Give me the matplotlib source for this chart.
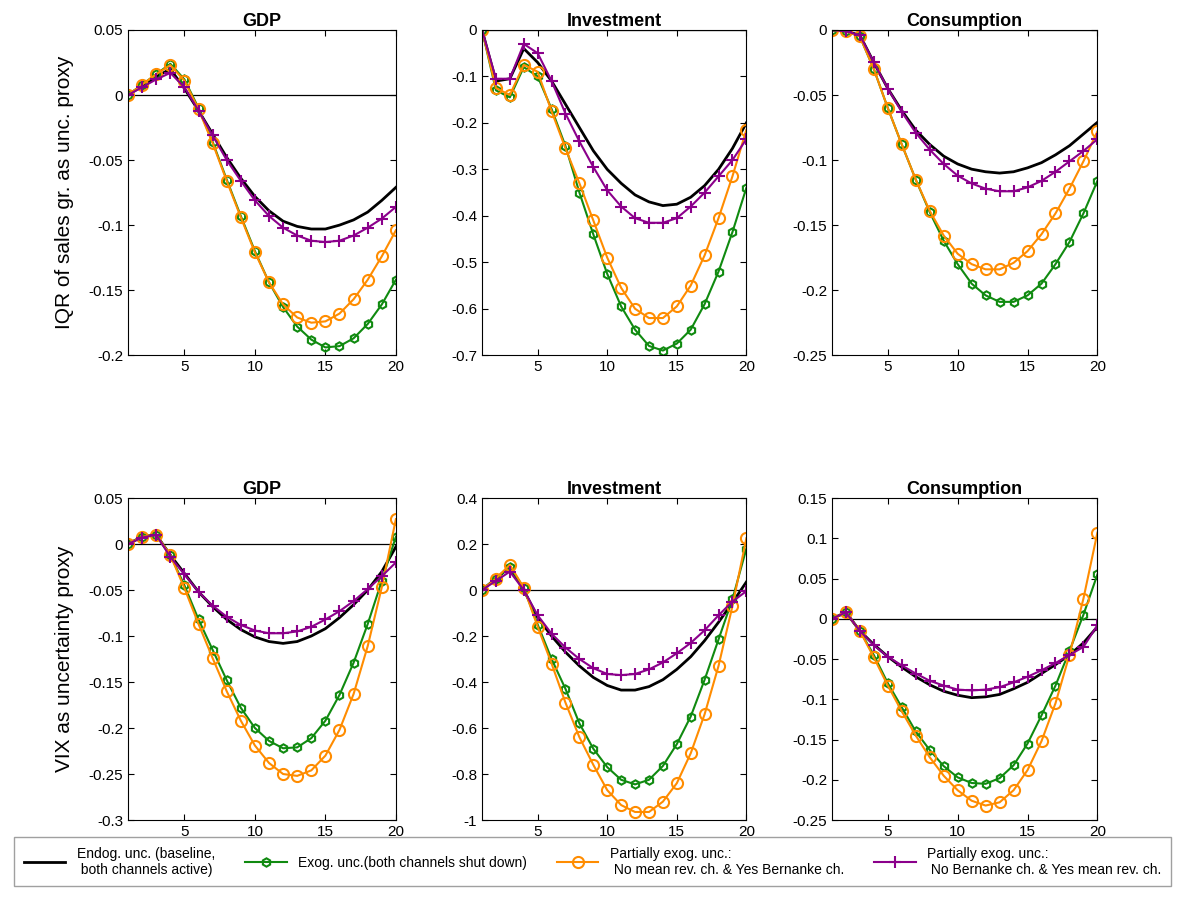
import matplotlib
matplotlib.use("Agg")
import matplotlib.pyplot as plt
import numpy as np

plt.rcParams['font.family'] = ['Liberation Sans', 'DejaVu Sans']
x = np.arange(1, 21)

titles = ["GDP", "Investment", "Consumption", "GDP", "Investment", "Consumption"]
row_labels = ["IQR of sales gr. as unc. proxy", "VIX as uncertainty proxy"]
series_labels = ["Endog. unc. (baseline,\n both channels active)",
                 "Exog. unc.(both channels shut down)",
                 "Partially exog. unc.:\n No mean rev. ch. & Yes Bernanke ch.",
                 "Partially exog. unc.:\n No Bernanke ch. & Yes mean rev. ch."]

black = [
 [0,.007,.014,.02,.005,-.012,-.03,-.048,-.064,-.078,-.089,-.097,-.101,-.103,-.103,-.1,-.096,-.09,-.081,-.071],
 [0,-.11,-.105,-.04,-.07,-.11,-.16,-.21,-.26,-.3,-.33,-.355,-.37,-.378,-.375,-.36,-.335,-.3,-.255,-.2],
 [0,-.001,-.004,-.025,-.045,-.062,-.077,-.088,-.097,-.103,-.107,-.109,-.11,-.109,-.106,-.102,-.096,-.089,-.08,-.071],
 [0,.008,.01,-.012,-.032,-.052,-.068,-.082,-.093,-.101,-.106,-.108,-.106,-.1,-.092,-.08,-.066,-.05,-.03,-.003],
 [0,.05,.1,.0,-.12,-.2,-.27,-.33,-.38,-.415,-.435,-.435,-.42,-.39,-.345,-.29,-.22,-.14,-.055,.035],
 [0,.008,-.015,-.032,-.047,-.06,-.072,-.082,-.09,-.095,-.098,-.097,-.094,-.087,-.079,-.068,-.057,-.045,-.03,-.01]]
green = [
 [0,.008,.016,.024,.012,-.01,-.036,-.065,-.093,-.12,-.144,-.163,-.178,-.188,-.194,-.193,-.187,-.176,-.161,-.142],
 [0,-.13,-.145,-.08,-.1,-.17,-.25,-.35,-.44,-.525,-.595,-.645,-.68,-.69,-.675,-.645,-.59,-.52,-.435,-.34],
 [0,-.001,-.005,-.03,-.06,-.088,-.115,-.14,-.162,-.18,-.195,-.204,-.209,-.209,-.204,-.195,-.18,-.163,-.141,-.116],
 [0,.008,.01,-.012,-.045,-.082,-.115,-.148,-.178,-.2,-.214,-.222,-.221,-.211,-.192,-.164,-.129,-.087,-.04,.008],
 [0,.05,.1,.01,-.15,-.3,-.43,-.58,-.69,-.77,-.825,-.845,-.825,-.765,-.67,-.55,-.39,-.215,-.04,.18],
 [0,.008,-.015,-.045,-.08,-.11,-.14,-.163,-.183,-.197,-.204,-.205,-.198,-.182,-.155,-.12,-.083,-.04,.005,.055]]
orange = [
 [0,.008,.016,.023,.011,-.011,-.037,-.066,-.094,-.121,-.144,-.161,-.171,-.175,-.174,-.168,-.157,-.142,-.124,-.104],
 [0,-.125,-.14,-.075,-.09,-.175,-.255,-.33,-.41,-.49,-.555,-.6,-.62,-.62,-.595,-.55,-.485,-.405,-.315,-.215],
 [0,-.001,-.005,-.03,-.06,-.088,-.115,-.139,-.158,-.172,-.18,-.184,-.184,-.179,-.17,-.157,-.141,-.122,-.101,-.078],
 [0,.008,.01,-.012,-.048,-.087,-.124,-.16,-.192,-.219,-.238,-.25,-.252,-.246,-.23,-.202,-.163,-.111,-.047,.027],
 [0,.05,.11,.01,-.16,-.32,-.49,-.64,-.76,-.87,-.935,-.965,-.965,-.92,-.84,-.71,-.54,-.33,-.07,.225],
 [0,.008,-.015,-.048,-.083,-.115,-.145,-.172,-.195,-.213,-.226,-.232,-.228,-.213,-.188,-.152,-.105,-.045,.025,.107]]
purple = [
 [0,.006,.012,.017,.006,-.012,-.031,-.05,-.066,-.081,-.093,-.102,-.108,-.112,-.113,-.112,-.108,-.102,-.095,-.086],
 [0,-.105,-.105,-.03,-.05,-.11,-.18,-.24,-.295,-.345,-.38,-.405,-.415,-.415,-.405,-.38,-.35,-.315,-.28,-.235],
 [0,-.001,-.004,-.025,-.045,-.063,-.079,-.092,-.103,-.112,-.118,-.122,-.124,-.124,-.121,-.116,-.109,-.101,-.093,-.084],
 [0,.007,.01,-.014,-.033,-.052,-.067,-.079,-.088,-.094,-.097,-.097,-.095,-.09,-.082,-.073,-.062,-.049,-.035,-.02],
 [0,.04,.08,.0,-.11,-.19,-.25,-.3,-.34,-.365,-.37,-.365,-.345,-.315,-.275,-.23,-.175,-.11,-.05,-.005],
 [0,.008,-.015,-.033,-.047,-.058,-.068,-.077,-.083,-.088,-.089,-.088,-.085,-.079,-.072,-.064,-.055,-.045,-.035,-.008]]

ylims = [(-0.2, 0.05), (-0.7, 0), (-0.25, 0), (-0.3, 0.05), (-1, 0.4), (-0.25, 0.15)]
yticks = [np.arange(-0.2, 0.051, 0.05), np.arange(-0.7, 0.01, 0.1), np.arange(-0.25, 0.01, 0.05),
          np.arange(-0.3, 0.051, 0.05), np.arange(-1, 0.41, 0.2), np.arange(-0.25, 0.151, 0.05)]

fig = plt.figure(figsize=(11.8, 8.97), dpi=100)
lefts = [0.1085, 0.4085, 0.705]
widths = [0.227, 0.224, 0.225]
rows = [(0.604, 0.3626), (0.0858, 0.359)]
GREEN, ORANGE, PURPLE = '#108a10', '#ff8c00', '#8b008b'
handles = None
for i in range(6):
    r, c = divmod(i, 3)
    ax = fig.add_axes([lefts[c], rows[r][0], widths[c], rows[r][1]])
    ax.axhline(0, color='black', lw=0.9)
    h1, = ax.plot(x, black[i], color='black', lw=2)
    h2, = ax.plot(x, green[i], color=GREEN, lw=1.5, marker='h', ms=6, mfc='none', mew=1.5)
    h3, = ax.plot(x, orange[i], color=ORANGE, lw=1.5, marker='o', ms=8, mfc='none', mew=1.5)
    h4, = ax.plot(x, purple[i], color=PURPLE, lw=1.5, marker='+', ms=9, mew=1.5)
    handles = [h1, h2, h3, h4]
    ax.set_xlim(1, 20)
    ax.set_ylim(*ylims[i])
    ax.set_xticks([5, 10, 15, 20])
    ax.set_yticks(yticks[i])
    ax.set_yticklabels(['0' if abs(v) < 1e-9 else ('%g' % round(v, 2)) for v in yticks[i]])
    ax.tick_params(direction='in', labelsize=11, length=4, top=True, right=True)
    ax.set_title(titles[i], fontsize=13, fontweight='bold', pad=3)
    if c == 0:
        ax.set_ylabel(row_labels[r], fontsize=15)
        ax.yaxis.set_label_coords(-0.2, 0.5)

leg = fig.legend(handles, series_labels, loc='lower left', bbox_to_anchor=(0.006, 0.004, 0.992, 0.06),
                 mode='expand', ncol=4, fontsize=10, frameon=True, fancybox=False, edgecolor='#888888',
                 handlelength=3, columnspacing=1.0, borderpad=0.7)
fig.savefig('out.png', dpi=100)
